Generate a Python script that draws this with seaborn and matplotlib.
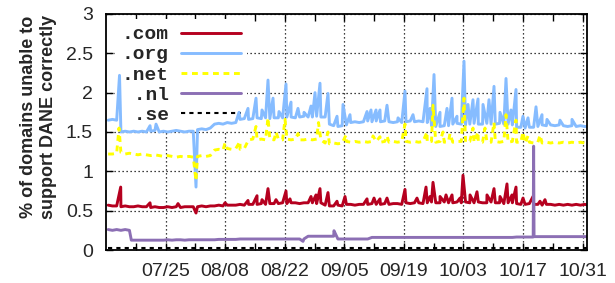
import numpy as np
import pandas as pd
import matplotlib
matplotlib.use("Agg")
import matplotlib.pyplot as plt
import matplotlib.dates as mdates
import seaborn as sns

START = "2016-07-11"

# daily samples (one per day, at noon, starting 07/11)
com = [
    0.57, 0.56, 0.56, 0.55, 0.56, 0.55, 0.55, 0.56, 0.55, 0.55,
    0.54, 0.55, 0.54, 0.54, 0.55, 0.54, 0.55, 0.54, 0.55, 0.55,
    0.55, 0.55, 0.56, 0.55, 0.56, 0.56, 0.57, 0.56, 0.57, 0.57,
    0.57, 0.58, 0.57, 0.58, 0.58, 0.58, 0.59, 0.58, 0.59, 0.59,
    0.59, 0.60, 0.59, 0.60, 0.60, 0.59, 0.60, 0.60, 0.60, 0.59,
    0.60, 0.57, 0.56, 0.56, 0.57, 0.56, 0.58, 0.58, 0.57, 0.58,
    0.58, 0.58, 0.59, 0.58, 0.58, 0.59, 0.58, 0.59, 0.59, 0.58,
    0.60, 0.59, 0.60, 0.60, 0.59, 0.60, 0.61, 0.60, 0.60, 0.61,
    0.60, 0.60, 0.61, 0.60, 0.61, 0.60, 0.60, 0.61, 0.60, 0.60,
    0.61, 0.60, 0.60, 0.59, 0.60, 0.60, 0.59, 0.58, 0.58, 0.59,
    0.58, 0.58, 0.57, 0.58, 0.58, 0.57, 0.58, 0.57, 0.58, 0.57,
    0.58, 0.57, 0.58, 0.57]
org = [
    1.65, 1.66, 1.65, 1.50, 1.51, 1.50, 1.51, 1.50, 1.51, 1.50,
    1.51, 1.52, 1.50, 1.51, 1.50, 1.51, 1.52, 1.51, 1.50, 1.51,
    1.51, 1.53, 1.54, 1.53, 1.55, 1.60, 1.61, 1.60, 1.62, 1.61,
    1.62, 1.66, 1.67, 1.66, 1.67, 1.68, 1.67, 1.68, 1.67, 1.68,
    1.68, 1.68, 1.69, 1.69, 1.68, 1.69, 1.70, 1.69, 1.69, 1.70,
    1.69, 1.69, 1.60, 1.58, 1.57, 1.58, 1.59, 1.62, 1.63, 1.62,
    1.63, 1.64, 1.63, 1.64, 1.63, 1.64, 1.63, 1.62, 1.63, 1.62,
    1.63, 1.64, 1.63, 1.64, 1.63, 1.62, 1.58, 1.57, 1.57, 1.58,
    1.58, 1.60, 1.61, 1.60, 1.59, 1.60, 1.61, 1.60, 1.60, 1.61,
    1.60, 1.60, 1.61, 1.60, 1.60, 1.59, 1.56, 1.56, 1.55, 1.56,
    1.56, 1.57, 1.59, 1.58, 1.59, 1.58, 1.59, 1.58, 1.57, 1.58,
    1.57, 1.58, 1.57, 1.57]
net = [
    1.22, 1.22, 1.23, 1.24, 1.22, 1.23, 1.22, 1.21, 1.22, 1.21,
    1.20, 1.21, 1.20, 1.19, 1.20, 1.19, 1.18, 1.19, 1.18, 1.19,
    1.18, 1.19, 1.20, 1.19, 1.20, 1.27, 1.28, 1.27, 1.29, 1.28,
    1.29, 1.28, 1.29, 1.40, 1.41, 1.40, 1.41, 1.40, 1.41, 1.40,
    1.41, 1.40, 1.41, 1.40, 1.41, 1.40, 1.40, 1.41, 1.40, 1.41,
    1.40, 1.36, 1.35, 1.36, 1.35, 1.36, 1.38, 1.37, 1.38, 1.37,
    1.38, 1.37, 1.38, 1.38, 1.37, 1.38, 1.37, 1.38, 1.37, 1.38,
    1.38, 1.37, 1.38, 1.37, 1.38, 1.37, 1.38, 1.37, 1.38, 1.37,
    1.38, 1.37, 1.38, 1.38, 1.37, 1.38, 1.37, 1.38, 1.37, 1.38,
    1.37, 1.38, 1.37, 1.38, 1.37, 1.38, 1.37, 1.37, 1.36, 1.37,
    1.36, 1.37, 1.36, 1.37, 1.36, 1.37, 1.36, 1.37, 1.36, 1.37,
    1.36, 1.37, 1.36, 1.36]
nl = [
    0.26, 0.25, 0.26, 0.25, 0.26, 0.25, 0.125, 0.125, 0.125, 0.125,
    0.125, 0.125, 0.125, 0.125, 0.13, 0.125, 0.13, 0.13, 0.125, 0.13,
    0.13, 0.13, 0.13, 0.13, 0.13, 0.13, 0.135, 0.135, 0.135, 0.135,
    0.135, 0.14, 0.14, 0.14, 0.14, 0.14, 0.14, 0.14, 0.14, 0.14,
    0.14, 0.14, 0.14, 0.14, 0.14, 0.14, 0.14, 0.175, 0.175, 0.175,
    0.175, 0.175, 0.175, 0.175, 0.14, 0.14, 0.14, 0.14, 0.14, 0.14,
    0.14, 0.14, 0.16, 0.16, 0.16, 0.16, 0.16, 0.16, 0.16, 0.16,
    0.16, 0.16, 0.16, 0.16, 0.16, 0.16, 0.16, 0.16, 0.16, 0.16,
    0.16, 0.16, 0.16, 0.16, 0.16, 0.16, 0.16, 0.16, 0.16, 0.16,
    0.16, 0.16, 0.16, 0.16, 0.16, 0.16, 0.165, 0.165, 0.165, 0.165,
    1.32, 0.17, 0.17, 0.17, 0.17, 0.17, 0.17, 0.17, 0.17, 0.17,
    0.17, 0.17, 0.17, 0.17]
se = [
    0.02, 0.02, 0.02, 0.02, 0.02, 0.02, 0.02, 0.02, 0.02, 0.02,
    0.02, 0.02, 0.02, 0.02, 0.02, 0.02, 0.02, 0.02, 0.02, 0.02,
    0.02, 0.02, 0.02, 0.02, 0.02, 0.02, 0.02, 0.02, 0.02, 0.02,
    0.02, 0.02, 0.02, 0.02, 0.02, 0.02, 0.02, 0.02, 0.02, 0.02,
    0.02, 0.02, 0.02, 0.02, 0.02, 0.02, 0.02, 0.02, 0.02, 0.02,
    0.02, 0.02, 0.02, 0.02, 0.02, 0.02, 0.02, 0.02, 0.02, 0.02,
    0.02, 0.02, 0.02, 0.02, 0.02, 0.02, 0.02, 0.02, 0.02, 0.02,
    0.02, 0.02, 0.02, 0.02, 0.02, 0.02, 0.02, 0.02, 0.02, 0.02,
    0.02, 0.02, 0.02, 0.02, 0.02, 0.02, 0.02, 0.02, 0.02, 0.02,
    0.02, 0.02, 0.02, 0.02, 0.02, 0.02, 0.02, 0.02, 0.02, 0.02,
    0.02, 0.02, 0.02, 0.02, 0.02, 0.02, 0.02, 0.02, 0.02, 0.02,
    0.02, 0.02, 0.02, 0.02]

# short-lived spikes (day offset from 07/11 00:00, value)
com_spike_day = [3.45, 10.34, 16.92, 21.15, 27.97, 33.37, 35.49, 36.66, 38.07, 39.95,
                 42.30, 43.24, 48.18, 49.35, 50.29, 52.17, 54.29, 56.17, 61.34, 62.99,
                 64.39, 66.04, 70.27, 73.09, 75.21, 76.15, 76.85, 78.50, 79.91, 81.32,
                 83.20, 83.90, 85.55, 87.19, 89.54, 91.19, 92.60, 94.24, 95.42, 96.36,
                 98.00, 100.35, 102.00, 103.17]
com_spike_val = [0.80, 0.60, 0.59, 0.47, 0.60, 0.63, 0.69, 0.64, 0.78, 0.64,
                 0.75, 0.65, 0.68, 0.70, 0.78, 0.73, 0.62, 0.68, 0.65, 0.66,
                 0.65, 0.66, 0.77, 0.66, 0.80, 0.68, 0.86, 0.68, 0.70, 0.70,
                 0.66, 0.95, 0.70, 0.74, 0.70, 0.78, 0.68, 0.84, 0.70, 0.80,
                 0.66, 0.68, 0.62, 0.64]
org_spike_day = [3.17, 10.34, 11.75, 21.15, 31.26, 33.37, 35.25, 36.66, 38.07, 39.25,
                 40.66, 42.30, 43.48, 45.12, 46.53, 48.18, 49.12, 50.29, 52.17, 54.29,
                 55.70, 57.34, 61.34, 62.28, 63.46, 64.39, 66.04, 68.63, 70.27, 72.15,
                 75.44, 76.15, 77.09, 78.50, 80.14, 81.32, 82.49, 84.14, 85.08, 86.25,
                 87.43, 88.60, 90.01, 91.19, 92.60, 94.01, 95.18, 96.36, 98.00, 99.18,
                 101.06, 102.47, 103.64, 106.70, 109.52]
org_spike_val = [2.22, 1.58, 1.60, 0.80, 1.75, 1.80, 1.93, 1.78, 2.16, 1.93,
                 1.76, 2.11, 1.88, 1.80, 1.75, 1.83, 2.00, 2.12, 1.99, 1.70,
                 1.85, 1.72, 1.76, 1.78, 1.78, 1.78, 1.84, 1.68, 2.02, 1.72,
                 2.05, 1.80, 2.23, 1.75, 1.80, 1.93, 1.70, 2.40, 1.85, 1.91,
                 1.92, 1.85, 1.91, 2.08, 1.75, 2.18, 1.78, 2.04, 1.70, 1.68,
                 1.82, 1.72, 1.66, 1.65, 1.66]
net_spike_day = [3.05, 21.15, 27.97, 31.49, 35.25, 38.07, 39.95, 42.07, 45.12, 49.94,
                 52.17, 56.40, 62.75, 64.39, 66.04, 70.27, 75.44, 76.85, 79.20, 80.85,
                 84.14, 86.25, 87.43, 89.07, 91.19, 94.01, 96.36, 98.00, 99.18, 102.00]
net_spike_val = [1.55, 0.88, 1.36, 1.38, 1.57, 1.68, 1.50, 1.66, 1.48, 1.62,
                 1.50, 1.46, 1.45, 1.44, 1.45, 1.60, 1.50, 1.84, 1.50, 1.48,
                 1.93, 1.55, 1.50, 1.55, 1.62, 1.72, 1.65, 1.50, 1.45, 1.46]
nl_spike_day = [5.95, 46.30, 53.58, 100.40, 100.60]
nl_spike_val = [0.125, 0.11, 0.245, 0.165, 0.17]
se_spike_day = []
se_spike_val = []

series_names = [".com", ".org", ".net", ".nl", ".se"]
legend_labels = [".com", ".org", ".net", " .nl", " .se"]
colors = ["#B5001F", "#86BCFF", "#FFFF00", "#8C6FB4", "#000000"]
styles = ["-", "-", (0, (2.0, 1.6)), "-", (0, (2.0, 2.0))]
widths = [2.1, 2.1, 2.1, 2.1, 1.5]

x_tick_dates = ["2016-07-25", "2016-08-08", "2016-08-22", "2016-09-05",
                "2016-09-19", "2016-10-03", "2016-10-17", "2016-10-31"]
x_tick_labels = ["07/25", "08/08", "08/22", "09/05", "09/19", "10/03", "10/17", "10/31"]
x_minor_dates = ["2016-07-18", "2016-08-01", "2016-08-15", "2016-08-29", "2016-09-12",
                 "2016-09-26", "2016-10-10", "2016-10-24"]
y_ticks = [0, 0.5, 1, 1.5, 2, 2.5, 3]
y_tick_labels = ["0", "0.5", "1", "1.5", "2", "2.5", "3"]


def build(name, daily, sday, sval):
    day = [i + 0.5 for i in range(len(daily))] + list(sday)
    val = list(daily) + list(sval)
    df = pd.DataFrame({"day": day, "value": val}).sort_values("day")
    df["time"] = pd.Timestamp(START) + pd.to_timedelta(df["day"], unit="D")
    df["tld"] = name
    return df


frames = [
    build(".com", com, com_spike_day, com_spike_val),
    build(".org", org, org_spike_day, org_spike_val),
    build(".net", net, net_spike_day, net_spike_val),
    build(".nl", nl, nl_spike_day, nl_spike_val),
    build(".se", se, se_spike_day, se_spike_val),
]

sns.set_style("ticks")
plt.rcParams["font.family"] = ["Liberation Sans", "DejaVu Sans"]

fig = plt.figure(figsize=(6.15, 2.83), dpi=100)
ax = fig.add_axes([0.1724, 0.1166, 0.7821, 0.834])

for df, c, ls, lw in zip(frames, colors, styles, widths):
    sns.lineplot(data=df, x="time", y="value", color=c, linewidth=lw,
                 linestyle=ls, estimator=None, sort=False, label=df["tld"].iloc[0],
                 ax=ax, zorder=2)

t0 = pd.Timestamp(START)
ax.set_xlim(mdates.date2num(t0), mdates.date2num(t0 + pd.Timedelta(days=113.05)))
ax.set_ylim(0, 3)
ax.set_xticks([mdates.date2num(pd.Timestamp(d)) for d in x_tick_dates])
ax.set_xticklabels(x_tick_labels)
ax.set_xticks([mdates.date2num(pd.Timestamp(d)) for d in x_minor_dates], minor=True)
ax.set_yticks(y_ticks)
ax.set_yticklabels(y_tick_labels)

ax.set_axisbelow(True)
ax.grid(True, which="major", color="black", linestyle=(0, (1, 2.2)), linewidth=0.9)
ax.tick_params(which="both", direction="in", top=True, right=True, length=5,
               width=1.0, color="black", labelsize=14, pad=9.3)
for s in ax.spines.values():
    s.set_linewidth(1.3)
    s.set_color("black")

ax.set_xlabel("")
ax.set_ylabel("% of domains unable to\nsupport DANE correctly", fontsize=13,
              fontweight="bold")
ax.yaxis.set_label_coords(-0.102, 0.5636)

handles, _ = ax.get_legend_handles_labels()
leg = ax.legend(handles, legend_labels, loc="upper left",
                bbox_to_anchor=(0.0185, 0.979), borderaxespad=0,
                prop={"family": "Liberation Mono", "weight": "bold", "size": 14},
                markerfirst=False, handlelength=3.05, handletextpad=0.65,
                labelspacing=0.13, borderpad=0.35, frameon=True, framealpha=1,
                facecolor="white", edgecolor="none", fancybox=False)
leg.set_zorder(1.5)

fig.savefig("out.png", dpi=100)
